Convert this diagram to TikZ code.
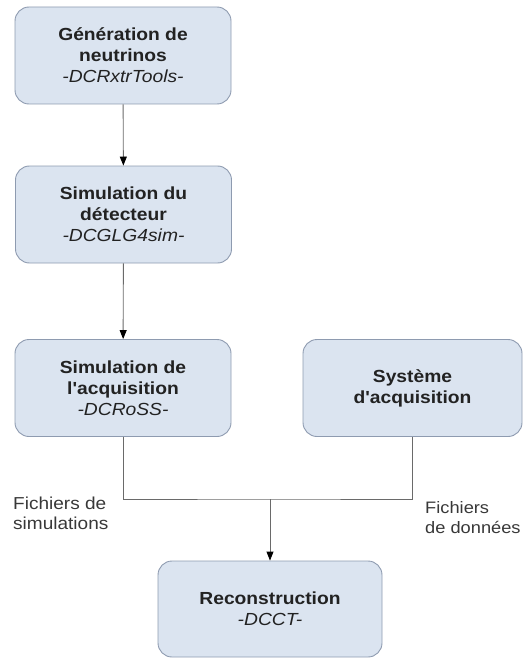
\documentclass[tikz,border=0pt]{standalone}
\usepackage{fontspec}
\setmainfont[FakeStretch=1.1, Ligatures=TeXOff]{Liberation Sans}
\usetikzlibrary{arrows.meta}
\definecolor{boxfill}{HTML}{DBE4F0}
\definecolor{boxline}{HTML}{8E9BB0}
\definecolor{connline}{HTML}{6A6A6A}
\definecolor{txt}{HTML}{222222}
\tikzset{
  stepbox/.style={draw=boxline, line width=0.9pt, fill=boxfill, rounded corners=14pt,
    minimum width=216pt, minimum height=97pt, align=center, inner sep=0pt,
    text=txt, font=\fontsize{17.5}{21}\selectfont},
  conn/.style={draw=connline, line width=0.9pt},
  arr/.style={conn, -{Triangle[length=9pt,width=7pt,fill=black,color=black]}},
  lbl/.style={align=left, inner sep=0pt, anchor=north west, text=txt!90,
    font=\fontsize{17.3}{19.5}\selectfont}
}
\begin{document}
\begin{tikzpicture}[x=1pt,y=-1pt]
\useasboundingbox (0,0) rectangle (524,658);
\node[stepbox] (b1) at (123,55.5) {\textbf{Génération de}\\\textbf{neutrinos}\\\textit{-DCRxtrTools-}};
\node[stepbox] (b2) at (123.5,214.5) {\textbf{Simulation du}\\\textbf{détecteur}\\\textit{-DCGLG4sim-}};
\node[stepbox] (b3) at (123,388) {\textbf{Simulation de}\\\textbf{l'acquisition}\\\textit{-DCRoSS-}};
\node[stepbox, minimum width=219pt] (b4) at (412.5,388) {\textbf{Système}\\\textbf{d'acquisition}};
\node[stepbox, minimum width=224pt, minimum height=96pt] (b5) at (270,609) {\textbf{Reconstruction}\\\textit{-DCCT-}};
\coordinate (j) at (270,499);
\draw[arr] (b1) -- (b2);
\draw[arr] (b2) -- (b3);
\draw[conn] (b3.south) |- (j) -| (b4.south);
\draw[arr] (j) -- (b5);
\node[lbl] (lsim) at (13,497) {Fichiers de\\simulations};
\node[lbl, font=\fontsize{16.6}{19.5}\selectfont] (ldon) at (425,501.5) {Fichiers\\de données};
\end{tikzpicture}
\end{document}
